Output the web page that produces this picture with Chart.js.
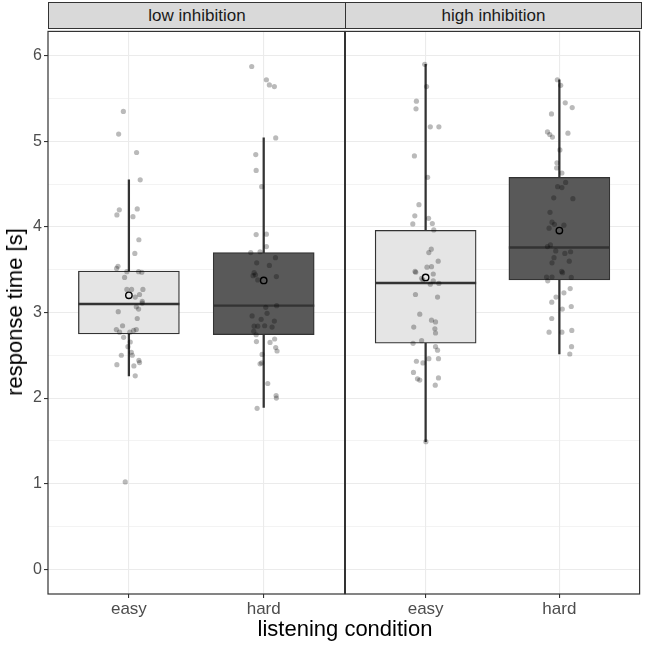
<!DOCTYPE html>
<html>
<head>
<meta charset="utf-8">
<script src="https://cdn.jsdelivr.net/npm/chart.js@4/dist/chart.umd.min.js"></script>
<style>
  body { margin: 0; background: #fff; }
  #wrap { position: relative; width: 645px; height: 645px; font-family: "Liberation Sans", Arial, sans-serif; }
  .strip { position: absolute; top: 2px; height: 27px; box-sizing: border-box; background: #d9d9d9;
           border: 1px solid #333; text-align: center; line-height: 25px; font-size: 17px; color: #1a1a1a; }
  .panel { position: absolute; top: 26px; height: 602px; }
  #xtitle { position: absolute; left: 48px; width: 594px; top: 616px; text-align: center; font-size: 22px; color: #000; }
  #ytitle { position: absolute; left: 15px; top: 312px; transform: translate(-50%, -50%) rotate(-90deg);
            white-space: nowrap; font-size: 22px; color: #000; }
</style>
</head>
<body>
<div id="wrap">
  <div class="strip" id="strip0" style="left:48px;width:298px;"></div>
  <div class="strip" id="strip1" style="left:345px;width:297px;"></div>
  <div class="panel" style="left:0;width:350px;"><canvas id="lowChart"></canvas></div>
  <div class="panel" style="left:340px;width:305px;"><canvas id="highChart"></canvas></div>
  <div id="xtitle">listening condition</div>
  <div id="ytitle">response time [s]</div>
</div>
<script>
const panels = ['low inhibition', 'high inhibition'];
const conditions = ['easy', 'hard'];
const yMajor = [0, 1, 2, 3, 4, 5, 6];
const yMinor = [0.5, 1.5, 2.5, 3.5, 4.5, 5.5];

// box stats, per condition (easy, hard)
const lowQ1 = [2.75, 2.74];
const lowMedian = [3.10, 3.08];
const lowQ3 = [3.485, 3.70];
const lowWhiskerLo = [2.26, 1.89];
const lowWhiskerHi = [4.55, 5.04];
const lowMean = [3.20, 3.375];

const highQ1 = [2.64, 3.38];
const highMedian = [3.345, 3.76];
const highQ3 = [3.96, 4.58];
const highWhiskerLo = [1.49, 2.515];
const highWhiskerHi = [5.90, 5.72];
const highMean = [3.41, 3.957];

// jittered observations [x, seconds]
const lowEasyPts = [[0.959,5.35],[0.924,5.085],[1.057,4.87],[1.084,4.55],[0.929,4.20],[0.911,4.14],[1.062,4.21],
  [1.030,4.12],[1.074,3.85],[1.044,3.69],[0.919,3.54],[0.909,3.515],[0.985,3.477],[1.072,3.477],[1.096,3.47],
  [0.968,3.41],[0.985,3.27],[1.020,3.27],[1.104,3.27],[1.047,3.18],[1.079,3.21],[1.099,3.13],[1.055,3.066],
  [1.072,3.04],[0.921,3.01],[1.099,3.11],[1.062,2.93],[0.953,2.845],[0.907,2.80],[0.931,2.77],[0.961,2.71],
  [1.007,2.77],[1.055,2.80],[1.035,2.79],[0.993,2.60],[1.010,2.655],[1.018,2.535],[1.025,2.50],[0.944,2.50],
  [1.074,2.44],[1.079,2.415],[0.911,2.39],[1.037,2.375],[1.047,2.26],[0.973,1.02]];
const lowHardPts = [[1.911,5.875],[2.020,5.72],[2.042,5.66],[2.079,5.64],[2.089,5.04],[1.941,4.845],[1.944,4.66],
  [1.985,4.47],[1.944,3.91],[2.020,3.915],[2.020,3.77],[1.904,3.70],[1.973,3.71],[1.948,3.58],[2.087,3.64],
  [2.042,3.55],[1.929,3.465],[1.921,3.43],[1.939,3.44],[2.094,3.42],[1.956,3.38],[2.015,3.06],[2.096,3.08],
  [2.025,2.99],[1.914,2.96],[1.981,2.92],[2.079,2.90],[1.929,2.84],[1.956,2.84],[2.007,2.845],[2.062,2.83],
  [1.926,2.78],[1.944,2.74],[1.946,2.66],[2.047,2.65],[2.081,2.69],[2.089,2.59],[2.099,2.55],[1.988,2.51],
  [1.973,2.40],[1.985,2.41],[2.030,2.17],[2.092,2.03],[2.094,2.00],[1.951,1.88]];
const highEasyPts = [[0.993,5.90],[1.007,5.64],[0.931,5.47],[0.928,5.38],[1.035,5.17],[1.099,5.17],[0.916,4.83],
  [1.015,4.58],[0.950,4.26],[0.919,4.13],[1.022,4.10],[0.904,4.035],[1.050,4.04],[1.061,3.965],[1.042,3.74],
  [1.024,3.70],[1.094,3.60],[1.010,3.53],[1.044,3.535],[0.921,3.48],[0.926,3.47],[1.057,3.45],[0.970,3.40],
  [0.980,3.38],[1.057,3.37],[1.035,3.33],[1.099,3.34],[0.924,3.21],[1.089,3.18],[0.956,2.98],[0.911,2.83],
  [1.044,2.91],[1.074,2.89],[1.069,2.81],[1.074,2.76],[0.906,2.64],[0.970,2.67],[1.074,2.60],[1.089,2.56],
  [0.931,2.43],[0.980,2.41],[1.024,2.46],[1.096,2.46],[0.909,2.30],[0.939,2.225],[0.956,2.21],[1.096,2.235],
  [1.072,2.15],[1.002,1.49]];
const highHardPts = [[1.985,5.72],[2.010,5.655],[2.044,5.45],[2.096,5.395],[1.941,5.32],[1.911,5.11],[1.928,5.08],
  [1.948,5.05],[2.064,5.095],[2.004,4.90],[1.982,4.75],[1.980,4.69],[2.019,4.63],[2.047,4.52],[1.987,4.47],
  [2.019,4.46],[1.958,4.34],[2.101,4.33],[1.930,4.17],[1.945,4.055],[1.963,4.03],[2.034,4.02],[1.923,3.985],
  [1.933,3.79],[1.911,3.77],[1.973,3.72],[2.041,3.69],[2.084,3.71],[1.960,3.64],[1.945,3.58],[2.074,3.60],
  [2.017,3.48],[2.024,3.465],[1.904,3.415],[1.945,3.415],[1.913,3.37],[2.089,3.41],[2.081,3.28],[2.034,3.23],
  [1.975,3.18],[1.943,3.12],[2.089,3.07],[2.022,3.04],[1.943,2.93],[1.923,2.77],[2.019,2.77],[2.093,2.79],
  [2.091,2.60],[2.078,2.515]];

const boxFill = ['#e5e5e5', '#595959'];
Chart.defaults.font.family = '"Liberation Sans", Arial, sans-serif';

document.getElementById('strip0').textContent = panels[0];
document.getElementById('strip1').textContent = panels[1];

const panelFrame = {
    id: 'panelFrame',
    afterDatasetDraw(chart, args) {
        if (args.index !== 1) return;   // medians go on top of the boxes
        const ctx = chart.ctx;
        const y = chart.scales.y;
        const medians = chart.options.plugins.panelFrame.medians;
        ctx.save();
        ctx.strokeStyle = '#333';
        ctx.lineWidth = 2.4;
        args.meta.data.forEach((bar, i) => {
            const py = y.getPixelForValue(medians[i]);
            ctx.beginPath();
            ctx.moveTo(bar.x - bar.width / 2, py);
            ctx.lineTo(bar.x + bar.width / 2, py);
            ctx.stroke();
        });
        ctx.restore();
    },
    afterDraw(chart) {
        const a = chart.chartArea;
        const ctx = chart.ctx;
        ctx.save();
        ctx.strokeStyle = '#333';
        ctx.lineWidth = 1.2;
        ctx.strokeRect(a.left, a.top, a.right - a.left, a.bottom - a.top);
        ctx.restore();
    }
};

function initPanel(canvasId, q1, median, q3, lo, hi, mean, easyPts, hardPts, showY) {
    const yTicks = yMajor.concat(yMinor).sort((a, b) => a - b);
    const isMajor = v => Number.isInteger(v);
    return new Chart(document.getElementById(canvasId), {
        data: {
            datasets: [
                {
                    type: 'bar', grouped: false, order: 5,
                    data: conditions.map((c, i) => ({x: i + 1, y: [lo[i], hi[i]]})),
                    barThickness: 1.6, backgroundColor: '#333', borderWidth: 0
                },
                {
                    type: 'bar', grouped: false, order: 4,
                    data: conditions.map((c, i) => ({x: i + 1, y: [q1[i], q3[i]]})),
                    barThickness: 101, backgroundColor: boxFill, borderColor: '#333',
                    borderWidth: 1.3, borderSkipped: false
                },
                {
                    type: 'scatter', order: 2,
                    data: easyPts.concat(hardPts).map(([x, y]) => ({x, y})),
                    pointRadius: 2.6, backgroundColor: 'rgba(0,0,0,0.27)', borderWidth: 0
                },
                {
                    type: 'scatter', order: 1,
                    data: mean.map((m, i) => ({x: i + 1, y: m})),
                    pointRadius: 3.2, backgroundColor: 'rgba(0,0,0,0)', borderColor: '#000', borderWidth: 1.4
                }
            ]
        },
        options: {
            responsive: true,
            maintainAspectRatio: false,
            animation: false,
            events: [],
            layout: {padding: {top: 2.5, right: showY ? 5 : 3.5, left: 0, bottom: 0}},
            plugins: {
                legend: {display: false},
                tooltip: {enabled: false},
                panelFrame: {medians: median}
            },
            scales: {
                x: {
                    type: 'linear', min: 0.4, max: 2.6, offset: false,
                    afterBuildTicks: axis => { axis.ticks = conditions.map((c, i) => ({value: i + 1})); },
                    afterFit: axis => { axis.height = 34; axis.paddingLeft = 0; axis.paddingRight = 0; },
                    ticks: {
                        callback: v => conditions[v - 1],
                        color: '#4d4d4d', font: {size: 17}, padding: 1, maxRotation: 0
                    },
                    grid: {offset: false, color: '#ebebeb', lineWidth: 1.1, tickLength: 4, tickColor: '#333', tickWidth: 1.1},
                    border: {display: false}
                },
                y: {
                    type: 'linear', min: -0.29, max: 6.285,
                    afterBuildTicks: axis => { axis.ticks = yTicks.map(v => ({value: v})); },
                    afterFit: axis => {
                        axis.width = showY ? 48 : 5;
                        axis.paddingTop = 0;
                        axis.paddingBottom = 0;
                    },
                    ticks: {
                        display: showY,
                        callback: v => isMajor(v) ? String(v) : '',
                        color: '#4d4d4d', font: {size: 16}, padding: 2
                    },
                    grid: {
                        color: '#ebebeb',
                        lineWidth: ctx => (ctx.tick && !isMajor(ctx.tick.value)) ? 0.6 : 1.1,
                        drawTicks: showY,
                        tickLength: 4,
                        tickWidth: 1.1,
                        tickColor: ctx => (ctx.tick && isMajor(ctx.tick.value)) ? '#333' : 'rgba(0,0,0,0)'
                    },
                    border: {display: false}
                }
            }
        },
        plugins: [panelFrame]
    });
}

initPanel('lowChart', lowQ1, lowMedian, lowQ3, lowWhiskerLo, lowWhiskerHi, lowMean, lowEasyPts, lowHardPts, true);
initPanel('highChart', highQ1, highMedian, highQ3, highWhiskerLo, highWhiskerHi, highMean, highEasyPts, highHardPts, false);
</script>
</body>
</html>
